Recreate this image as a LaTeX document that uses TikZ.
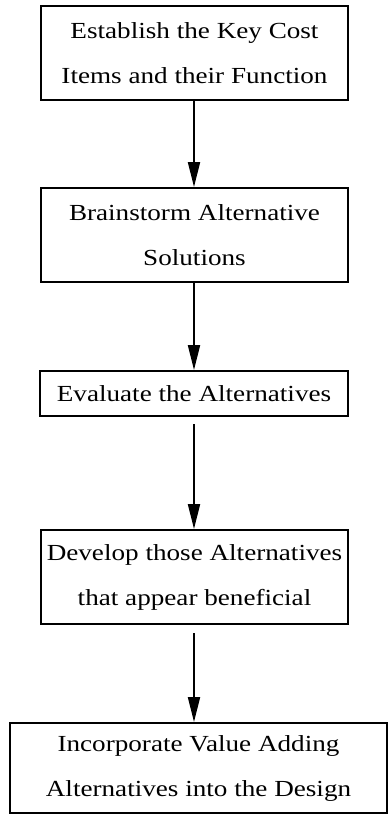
\documentclass[tikz,border=0pt]{standalone}
\usepackage{fontspec}
\setmainfont{Liberation Serif}[FakeStretch=1.18]
\usetikzlibrary{arrows.meta}
\begin{document}
\begin{tikzpicture}[x=1pt,y=-1pt,
  stepbox/.style={draw, line width=2pt, inner sep=0pt, align=center,
    font=\fontsize{23}{45}\selectfont},
  flow/.style={line width=2pt, -{Triangle[length=25pt,width=12pt]}}]
\useasboundingbox (0,0) rectangle (388,815);
\node[stepbox, minimum width=307pt, minimum height=94pt] (b1) at (194.5,53)
  {Establish the Key Cost\\Items and their Function};
\node[stepbox, minimum width=307pt, minimum height=94pt] (b2) at (194.5,235)
  {Brainstorm Alternative\\Solutions};
\node[stepbox, minimum width=308pt, minimum height=45pt] (b3) at (194,393.5)
  {Evaluate the Alternatives};
\node[stepbox, minimum width=307pt, minimum height=94pt] (b4) at (194.5,577)
  {Develop those Alternatives\\that appear beneficial};
\node[stepbox, minimum width=377pt, minimum height=90pt] (b5) at (198.5,768)
  {Incorporate Value Adding\\Alternatives into the Design};
\coordinate (a3) at ([yshift=-7pt]b3.south -| 194,0);
\coordinate (a4) at ([yshift=-8pt]b4.south -| 194,0);
\draw[flow] (b1.south -| 194,0) -- (b2.north -| 194,0);
\draw[flow] (b2.south -| 194,0) -- (b3.north -| 194,0);
\draw[flow] (a3) -- (b4.north -| 194,0);
\draw[flow] (a4) -- (b5.north -| 194,0);
\end{tikzpicture}
\end{document}
